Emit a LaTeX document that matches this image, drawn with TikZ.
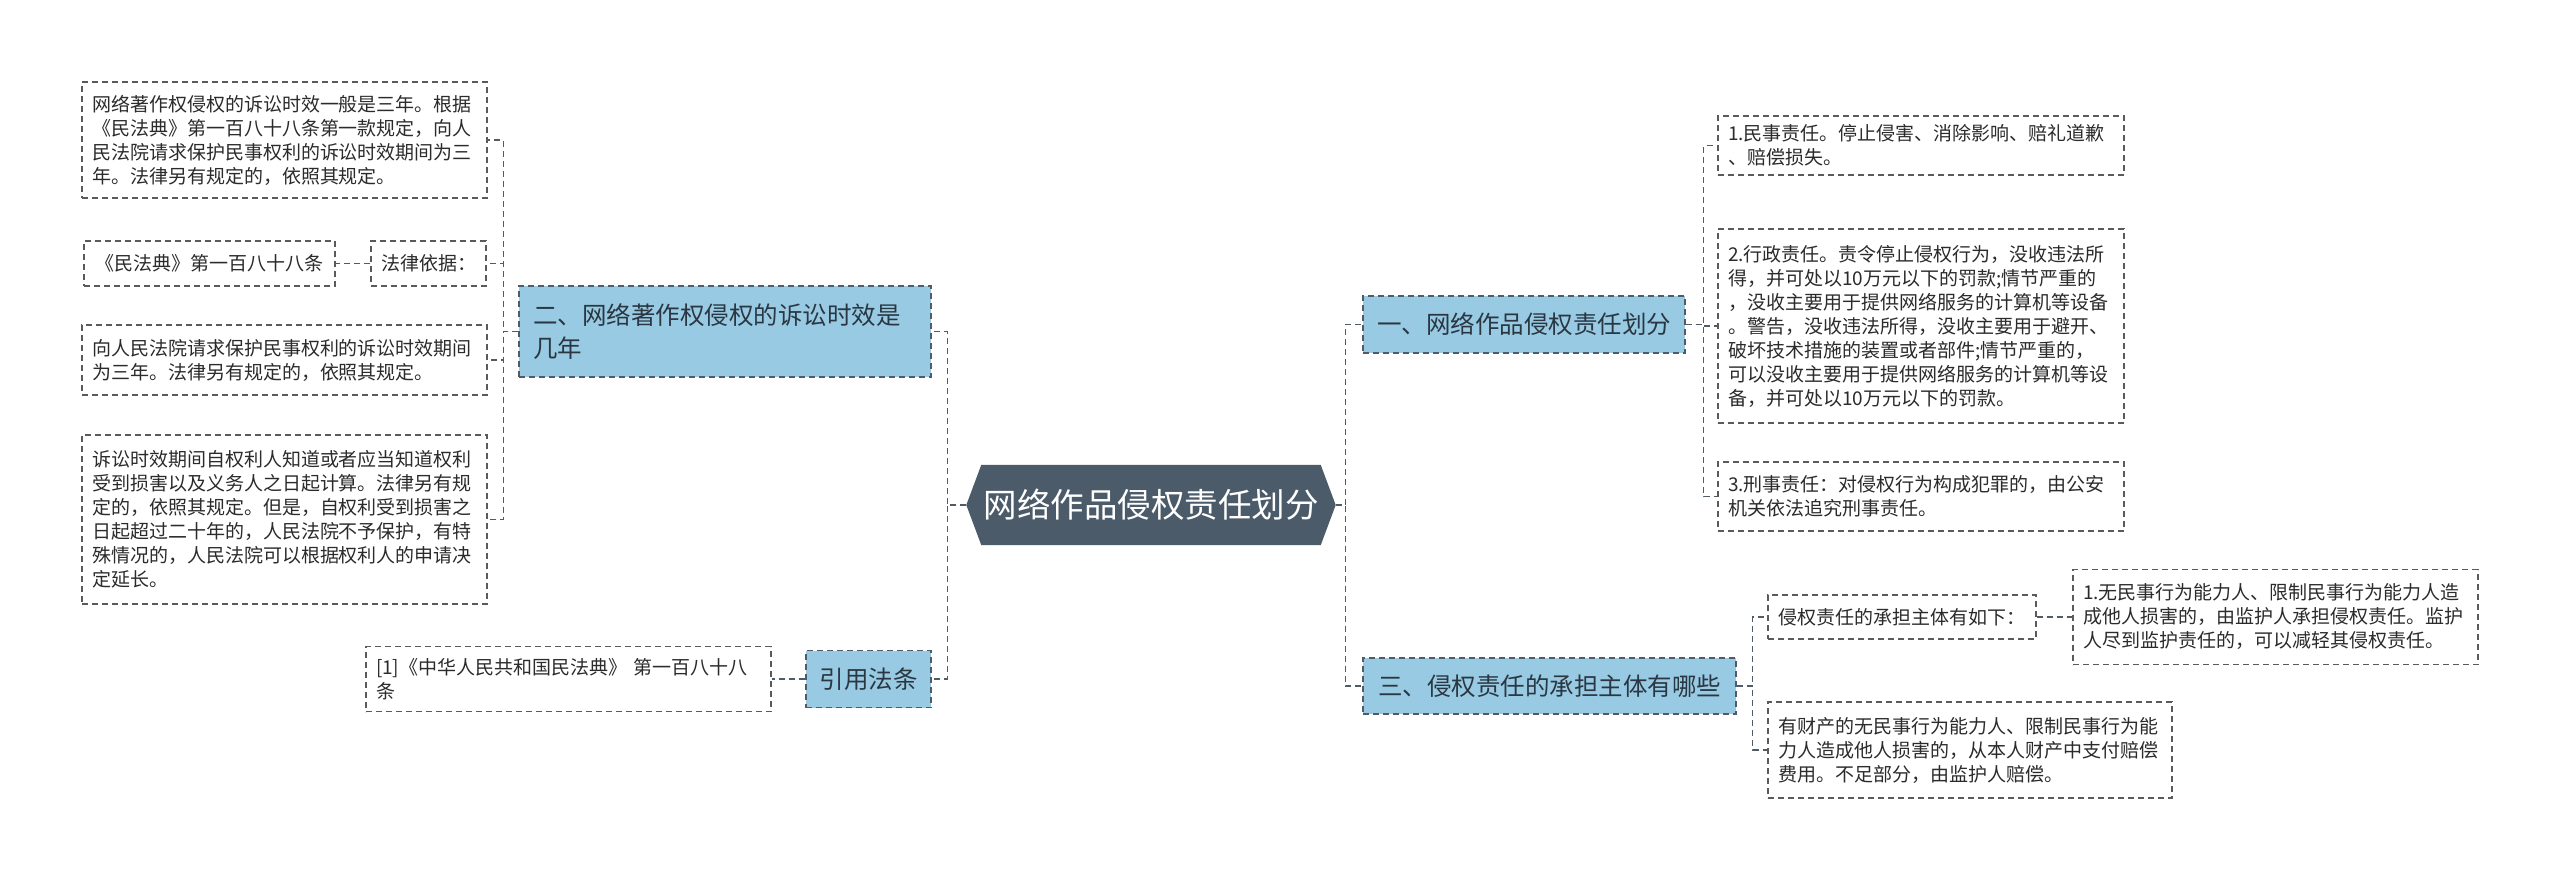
\documentclass[tikz,border=0pt]{standalone}
\usepackage{fontspec}
\setmainfont{Noto Sans CJK SC}
\usetikzlibrary{backgrounds}
\definecolor{rootc}{HTML}{4B5B6A}
\definecolor{lonec}{HTML}{98CBE3}
\definecolor{edgec}{HTML}{4F5B66}
\definecolor{leafb}{HTML}{5A5A5A}
\definecolor{txt}{HTML}{2B2B2B}
\definecolor{lonet}{HTML}{2A3742}
\tikzset{
  leaf/.style={draw=leafb, dash pattern=on 6pt off 4pt, line width=1.2pt, fill=white,
    rectangle, align=left, inner xsep=10pt, inner ysep=3pt,
    font=\fontsize{19}{24}\selectfont, text=txt},
  lone/.style={draw=edgec, dash pattern=on 6pt off 4pt, line width=1.4pt, fill=lonec,
    rectangle, align=left, inner xsep=14pt, inner ysep=3pt,
    font=\fontsize{24.5}{33}\selectfont, text=lonet},
  conn/.style={draw=edgec, line width=1.4pt, dash pattern=on 6pt off 4pt},
}
\begin{document}
\begin{tikzpicture}[x=1pt,y=-1pt]
\useasboundingbox (0,0) rectangle (2560,881);
% root
\node[font=\fontsize{33.5}{38}\selectfont, text=white, minimum width=369pt, minimum height=80pt, inner sep=0pt] (root) at (1151,505) {网络作品侵权责任划分};
% level one
\node[lone, minimum width=412pt, text width=384pt, minimum height=91pt] (l1) at (725,331.5) {二、网络著作权侵权的诉讼时效是\\几年};
\node[lone, minimum width=125pt, minimum height=57pt, inner xsep=13pt] (l2) at (868.5,679) {引用法条};
\node[lone, minimum width=322pt, minimum height=57pt] (r1) at (1524,324.5) {一、网络作品侵权责任划分};
\node[lone, minimum width=373pt, minimum height=56pt] (r2) at (1549.5,686) {三、侵权责任的承担主体有哪些};
% left leaves
\node[leaf, minimum width=405pt, text width=385pt, minimum height=116pt] (c1) at (284.5,140) {网络著作权侵权的诉讼时效一般是三年。根据\\《民法典》第一百八十八条第一款规定，向人\\民法院请求保护民事权利的诉讼时效期间为三\\年。法律另有规定的，依照其规定。};
\node[leaf, minimum width=115pt, minimum height=45pt] (c2) at (428.5,263.5) {法律依据：};
\node[leaf, minimum width=251pt, minimum height=45pt] (c2b) at (209.5,263.5) {《民法典》第一百八十八条};
\node[leaf, minimum width=405pt, text width=385pt, minimum height=70pt] (c3) at (284.5,360) {向人民法院请求保护民事权利的诉讼时效期间\\为三年。法律另有规定的，依照其规定。};
\node[leaf, minimum width=405pt, text width=385pt, minimum height=169pt] (c4) at (284.5,519.5) {诉讼时效期间自权利人知道或者应当知道权利\\受到损害以及义务人之日起计算。法律另有规\\定的，依照其规定。但是，自权利受到损害之\\日起超过二十年的，人民法院不予保护，有特\\殊情况的，人民法院可以根据权利人的申请决\\定延长。};
\node[leaf, minimum width=405pt, text width=385pt, minimum height=65pt] (cite) at (568.5,679) {[1]《中华人民共和国民法典》 第一百八十八\\条};
% right leaves
\node[leaf, minimum width=406pt, text width=386pt, minimum height=59pt] (d1) at (1921,145.5) {1.民事责任。停止侵害、消除影响、赔礼道歉\\、赔偿损失。};
\node[leaf, minimum width=406pt, text width=386pt, minimum height=194pt] (d2) at (1921,326) {2.行政责任。责令停止侵权行为，没收违法所\\得，并可处以10万元以下的罚款;情节严重的\\，没收主要用于提供网络服务的计算机等设备\\。警告，没收违法所得，没收主要用于避开、\\破坏技术措施的装置或者部件;情节严重的，\\可以没收主要用于提供网络服务的计算机等设\\备，并可处以10万元以下的罚款。};
\node[leaf, minimum width=406pt, text width=386pt, minimum height=69pt] (d3) at (1921,496.5) {3.刑事责任：对侵权行为构成犯罪的，由公安\\机关依法追究刑事责任。};
\node[leaf, minimum width=268pt, minimum height=44pt] (e1) at (1902,617) {侵权责任的承担主体有如下：};
\node[leaf, minimum width=405pt, text width=385pt, minimum height=95pt] (e1b) at (2275.5,617) {1.无民事行为能力人、限制民事行为能力人造\\成他人损害的，由监护人承担侵权责任。监护\\人尽到监护责任的，可以减轻其侵权责任。};
\node[leaf, minimum width=404pt, text width=384pt, minimum height=96pt] (e2) at (1970,750) {有财产的无民事行为能力人、限制民事行为能\\力人造成他人损害的，从本人财产中支付赔偿\\费用。不足部分，由监护人赔偿。};
% connectors
\draw[conn] (root.west) -- ++(-19,0) |- (l1.east);
\draw[conn] (root.west) -- ++(-19,0) |- (l2.east);
\draw[conn] (root.east) -- ++(9.5,0) |- (r1.west);
\draw[conn] (root.east) -- ++(9.5,0) |- (r2.west);
\draw[conn] (l1.west) -- ++(-15,0) |- (c1.east);
\draw[conn] (l1.west) -- ++(-15,0) |- (c2.east);
\draw[conn] (l1.west) -- ++(-15,0) |- (c3.east);
\draw[conn] (l1.west) -- ++(-15,0) |- (c4.east);
\draw[conn] (c2.west) -- (c2b.east);
\draw[conn] (l2.west) -- (cite.east);
\draw[conn] (r1.east) -- ++(18,0) |- (d1.west);
\draw[conn] (r1.east) -- ++(18,0) |- (d2.west);
\draw[conn] (r1.east) -- ++(18,0) |- (d3.west);
\draw[conn] (r2.east) -- ++(16,0) |- (e1.west);
\draw[conn] (r2.east) -- ++(16,0) |- (e2.west);
\draw[conn] (e1.east) -- (e1b.west);
\begin{scope}[on background layer]
\fill[white] (0,0) rectangle (2560,881);
\fill[rootc] (root.west) -- ([xshift=15pt]root.north west) -- ([xshift=-15pt]root.north east) -- (root.east) -- ([xshift=-15pt]root.south east) -- ([xshift=15pt]root.south west) -- cycle;
\end{scope}
\end{tikzpicture}
\end{document}
